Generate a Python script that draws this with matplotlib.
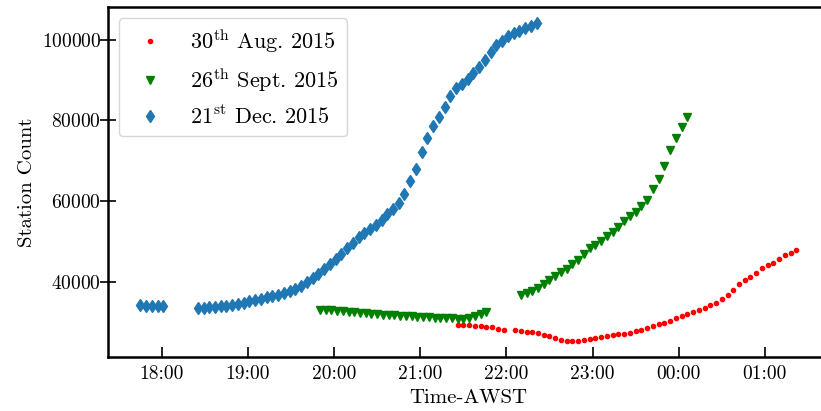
import matplotlib
matplotlib.use('Agg')
import matplotlib.pyplot as plt
import matplotlib.dates as mdates
from matplotlib.ticker import MultipleLocator
import pandas as pd

plt.rcParams['font.family'] = 'cmr10'
plt.rcParams['mathtext.fontset'] = 'cm'
plt.rcParams['axes.unicode_minus'] = False
plt.rcParams['axes.formatter.use_mathtext'] = True

# 30th Aug. 2015
aug_times = ['21:26', '21:30', '21:34', '21:38', '21:42', '21:46', '21:50', '21:54', '21:58',
             '22:06', '22:10', '22:14', '22:18', '22:22', '22:26', '22:30', '22:34', '22:38',
             '22:42', '22:46', '22:50', '22:54', '22:58', '23:02', '23:06', '23:10', '23:14',
             '23:18', '23:22', '23:26', '23:30', '23:34', '23:38', '23:42', '23:46', '23:50',
             '23:54', '23:58', '00:02', '00:06', '00:10', '00:14', '00:18', '00:22', '00:26',
             '00:30', '00:34', '00:38', '00:42', '00:46', '00:50', '00:54', '00:58', '01:02',
             '01:06', '01:10', '01:14', '01:18', '01:22']
aug_counts = [29470, 29380, 29380, 29300, 29220, 29050, 28890, 28480, 28310,
              28310, 28070, 27820, 27650, 27410, 27080, 26750, 26340, 25760,
              25510, 25510, 25600, 25760, 25930, 26260, 26500, 26670, 27000,
              27160, 27330, 27570, 27900, 28230, 28720, 29220, 29630, 30040,
              30540, 31110, 31690, 32100, 32680, 33170, 33660, 34320, 34980,
              35970, 36960, 38110, 39510, 40490, 41400, 42390, 43540, 44200,
              44860, 45680, 46670, 47330, 48070]

# 26th Sept. 2015
sep_times = ['19:50', '19:54', '19:58', '20:02', '20:06', '20:10', '20:14', '20:18', '20:22',
             '20:26', '20:30', '20:34', '20:38', '20:42', '20:46', '20:50', '20:54', '20:58',
             '21:02', '21:06', '21:10', '21:14', '21:18', '21:22', '21:26', '21:30', '21:34',
             '21:38', '21:42', '21:46',
             '22:10', '22:14', '22:18', '22:22', '22:26', '22:30', '22:34', '22:38', '22:42',
             '22:46', '22:50', '22:54', '22:58', '23:02', '23:06', '23:10', '23:14', '23:18',
             '23:22', '23:26', '23:30', '23:34', '23:38', '23:42', '23:46', '23:50', '23:54',
             '23:58', '00:02', '00:06']
sep_counts = [33200, 33150, 33100, 33050, 32900, 32750, 32600, 32450, 32350,
              32250, 32150, 32050, 31950, 31850, 31750, 31650, 31600, 31500,
              31450, 31400, 31300, 31250, 31200, 31100, 31000, 31000, 31250,
              31650, 32150, 32700,
              36800, 37380, 37950, 38690, 39600, 40670, 41490, 42480, 43380,
              44450, 45610, 47000, 48490, 49140, 50130, 51370, 52350, 53590,
              55070, 56300, 57370, 58770, 60420, 63140, 65520, 68650, 72600,
              75650, 78360, 80830]

# 21st Dec. 2015
dec_times = ['17:45', '17:49', '17:53', '17:57', '18:01',
             '18:25', '18:29', '18:33', '18:37', '18:41', '18:45', '18:49', '18:53', '18:57',
             '19:01', '19:05', '19:09', '19:13', '19:17', '19:21', '19:25', '19:29', '19:33',
             '19:37', '19:41', '19:45', '19:49', '19:53', '19:57', '20:01', '20:05', '20:09',
             '20:13', '20:17', '20:21', '20:25', '20:29', '20:33', '20:37', '20:41', '20:45',
             '20:49', '20:53', '20:57', '21:01', '21:05', '21:09', '21:13', '21:17', '21:21',
             '21:25', '21:29', '21:33', '21:37', '21:41', '21:45', '21:49', '21:53', '21:57',
             '22:01', '22:05', '22:09', '22:13', '22:17', '22:21']
dec_counts = [34500, 34300, 34200, 34200, 34100,
              33670, 33750, 33840, 33920, 34080, 34250, 34410, 34740, 34990,
              35320, 35650, 35980, 36300, 36630, 36960, 37460, 37950, 38440,
              39190, 40000, 41000, 42100, 43300, 44500, 45800, 47100, 48400,
              49800, 51100, 52200, 53260, 54250, 55480, 56960, 58120, 59600,
              61900, 65110, 68070, 72340, 75650, 78690, 80840, 83310, 86170,
              88000, 89060, 90290, 91700, 93180, 94990, 97030, 98690, 99750,
              100910, 101580, 102220, 102810, 103380, 104050]


def to_clock(times):
    # put every night on one time axis, hours after midnight go to the next day
    out = []
    for t in times:
        ts = pd.Timestamp('2015-01-01 ' + t)
        if ts.hour < 12:
            ts += pd.Timedelta(days=1)
        out.append(ts.to_pydatetime())
    return out


fig = plt.figure(figsize=(8.21, 4.11), dpi=100)
ax = fig.add_axes([0.131, 0.1314, 0.879, 0.851])

ax.plot(to_clock(aug_times), aug_counts, '.', color='red', label=r'30$^{\rm th}$ Aug. 2015')
ax.plot(to_clock(sep_times), sep_counts, 'v', color='green', label=r'26$^{\rm th}$ Sept. 2015')
ax.plot(to_clock(dec_times), dec_counts, 'd', color='C0', label=r'21$^{\rm st}$ Dec. 2015')

ax.xaxis.set_major_locator(mdates.HourLocator())
ax.xaxis.set_major_formatter(mdates.DateFormatter('%H:%M'))
ax.yaxis.set_major_locator(MultipleLocator(20000))

for s in ax.spines.values():
    s.set_linewidth(1.8)
ax.tick_params(axis='y', direction='inout', length=11, width=1.2, labelsize=14, pad=-1)
ax.tick_params(axis='x', direction='in', length=7, width=1.2, labelsize=14, pad=6)

ax.set_xlabel('Time-AWST', fontsize=15)
ax.set_ylabel('Station Count', fontsize=15)
ax.legend(loc='upper left', fontsize=16)

fig.savefig('out.png', dpi=100)
